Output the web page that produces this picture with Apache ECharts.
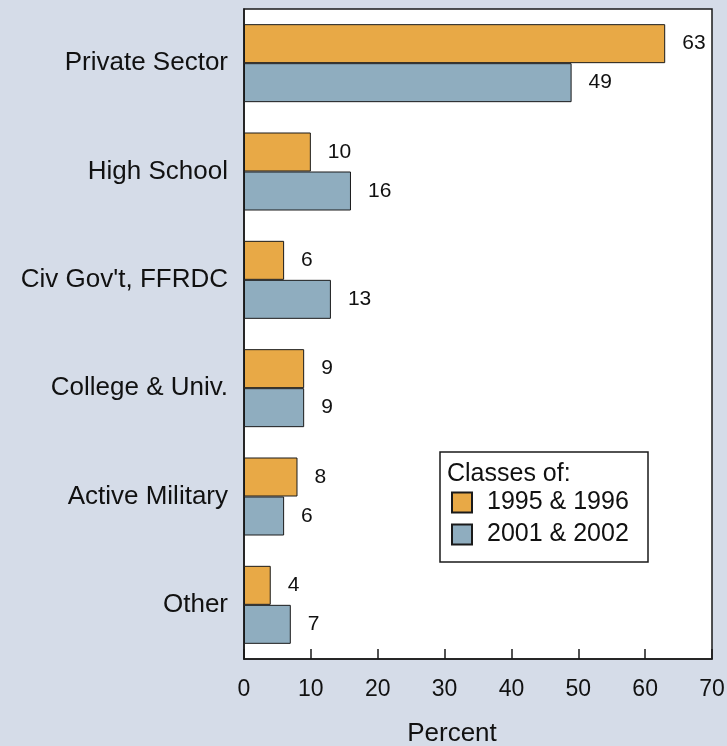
<!DOCTYPE html>
<html>
<head>
<meta charset="utf-8">
<script src="https://cdn.jsdelivr.net/npm/echarts@6/dist/echarts.min.js"></script>
<style>
  html, body { margin: 0; padding: 0; background: #d5dce8; }
  #chart { width: 727px; height: 746px; }
</style>
</head>
<body>
<div id="chart"></div>
<script>
// categories, top to bottom
const categories = ['Private Sector', 'High School', "Civ Gov't, FFRDC", 'College & Univ.', 'Active Military', 'Other']
const seriesNames = ['1995 & 1996', '2001 & 2002']
const classes9596 = [63, 10, 6, 9, 8, 4]
const classes0102 = [49, 16, 13, 9, 6, 7]
const xTicks = [0, 10, 20, 30, 40, 50, 60, 70]

const font = 'Liberation Sans, Arial, sans-serif'
const colors = ['#e8a946', '#8fadbf']

const chart = echarts.init(document.getElementById('chart'))

const barSeries = [classes9596, classes0102].map((data, i) => ({
  name: seriesNames[i],
  type: 'bar',
  data: data,
  barGap: '0%',
  barCategoryGap: '28%',
  itemStyle: {
    color: colors[i],
    borderColor: '#1a1a1a',
    borderWidth: 1
  },
  label: {
    show: true,
    position: 'right',
    distance: 17,
    color: '#111',
    fontFamily: font,
    fontSize: 21
  }
}))

chart.setOption({
  backgroundColor: '#d5dce8',
  animation: false,
  grid: {
    left: 244,
    right: 15,
    top: 9,
    bottom: 87,
    outerBoundsMode: 'none',
    show: true,
    backgroundColor: '#ffffff',
    borderColor: '#1a1a1a',
    borderWidth: 1.5
  },
  title: {
    text: 'Classes of:',
    left: 447,
    top: 462,
    padding: 0,
    textStyle: {
      fontFamily: font,
      fontSize: 25,
      fontWeight: 'normal',
      color: '#111'
    }
  },
  legend: {
    orient: 'vertical',
    left: 451,
    top: 490,
    padding: 0,
    itemWidth: 20,
    itemHeight: 20,
    itemGap: 7,
    icon: 'rect',
    data: seriesNames,
    textStyle: {
      fontFamily: font,
      fontSize: 25,
      color: '#111',
      padding: [0, 0, 0, 10]
    }
  },
  graphic: [{
    type: 'rect',
    z: 1,
    shape: { x: 440, y: 452, width: 208, height: 110 },
    style: { fill: '#ffffff', stroke: '#1a1a1a', lineWidth: 1.5 }
  }],
  xAxis: {
    type: 'value',
    min: xTicks[0],
    max: xTicks[xTicks.length - 1],
    interval: 10,
    name: 'Percent',
    nameLocation: 'middle',
    nameGap: 62,
    nameTextStyle: {
      fontFamily: font,
      fontSize: 26,
      color: '#111',
      padding: [0, 52, 0, 0]
    },
    axisLine: { show: true, lineStyle: { color: '#1a1a1a', width: 1.5 } },
    axisTick: { show: true, inside: true, length: 10, lineStyle: { color: '#1a1a1a', width: 1.5 } },
    axisLabel: {
      margin: 19,
      fontFamily: font,
      fontSize: 23,
      color: '#111',
      showMinLabel: true,
      showMaxLabel: true
    },
    splitLine: { show: false }
  },
  yAxis: {
    type: 'category',
    inverse: true,
    data: categories,
    axisLine: { show: true, lineStyle: { color: '#1a1a1a', width: 1.5 } },
    axisTick: { show: false },
    axisLabel: {
      margin: 16,
      fontFamily: font,
      fontSize: 26,
      color: '#111',
      padding: [6, 0, 0, 0]
    }
  },
  series: barSeries
})
</script>
</body>
</html>
